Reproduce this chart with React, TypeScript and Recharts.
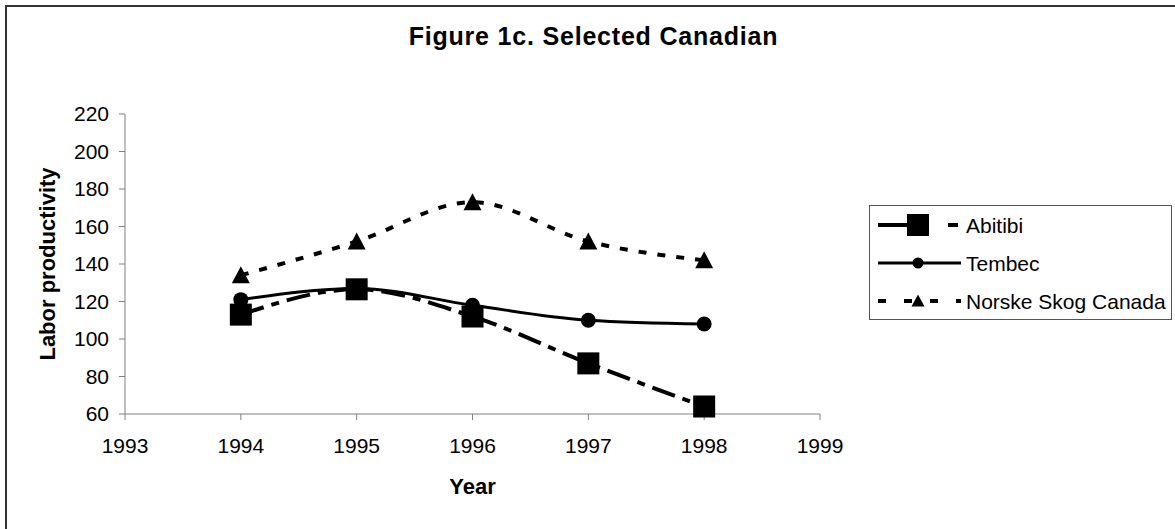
import { LineChart, Line, XAxis, YAxis, Legend } from "recharts";

const years = [1994, 1995, 1996, 1997, 1998];
const abitibi = [113, 126.5, 112, 87, 64];
const tembec = [121, 127, 118, 110, 108];
const norske = [134, 152, 173, 152, 142];

const xTicks = [1993, 1994, 1995, 1996, 1997, 1998, 1999];
const yTicks = [60, 80, 100, 120, 140, 160, 180, 200, 220];

const data = years.map((year, i) => ({
  year,
  abitibi: abitibi[i],
  tembec: tembec[i],
  norske: norske[i],
}));

const FONT = "'Liberation Sans', Arial, sans-serif";
const AXIS = "#808080";

const SERIES = [
  { key: "abitibi", name: "Abitibi", dash: "24 8 8 8", legendDash: "30 40 10 10", width: 4, marker: "square" },
  { key: "tembec", name: "Tembec", dash: undefined, legendDash: undefined, width: 3, marker: "circle" },
  { key: "norske", name: "Norske Skog Canada", dash: "8 11", legendDash: "8 18", width: 4, marker: "triangle" },
];

function Marker({ kind, cx, cy, small }: { kind: string; cx: number; cy: number; small?: boolean }) {
  if (kind === "square") return <rect x={cx - 11} y={cy - 11} width={22} height={22} fill="#000" />;
  if (kind === "circle") return <circle cx={cx} cy={cy} r={small ? 5.5 : 7.5} fill="#000" />;
  const h = small ? 6.5 : 9;
  return <polygon points={`${cx},${cy - h} ${cx + h},${cy + h - 1} ${cx - h},${cy + h - 1}`} fill="#000" />;
}

function makeDot(kind: string) {
  return (props: any) => {
    const { cx, cy, index } = props;
    if (cx == null || cy == null) return <g key={index} />;
    return <Marker key={index} kind={kind} cx={cx} cy={cy} />;
  };
}

function LegendBox() {
  return (
    <div
      style={{
        width: 303,
        height: 115,
        boxSizing: "border-box",
        border: "1px solid #555",
        background: "#fff",
      }}
    >
      <svg width={301} height={113}>
        {SERIES.map((s, i) => {
          const y = 19 + i * 38;
          return (
            <g key={s.key}>
              <line x1={8} x2={91} y1={y} y2={y} stroke="#000" strokeWidth={s.width} strokeDasharray={s.legendDash} />
              <Marker kind={s.marker} cx={48} cy={y} small />
              <text x={96} y={y} dy="0.36em" fontSize={21} fontFamily={FONT} fill="#000">
                {s.name}
              </text>
            </g>
          );
        })}
      </svg>
    </div>
  );
}

export default function App() {
  return (
    <div style={{ position: "absolute", left: 0, top: 0, width: 1175, height: 529, background: "#fff", overflow: "hidden" }}>
      <div
        style={{
          position: "absolute",
          left: 5,
          top: 5,
          width: 1200,
          height: 600,
          borderTop: "2px solid #333",
          borderLeft: "2px solid #333",
        }}
      />
      <div
        style={{
          position: "absolute",
          left: 6,
          top: 22,
          width: 1175,
          textAlign: "center",
          fontFamily: FONT,
          fontWeight: "bold",
          fontSize: 25,
          letterSpacing: 0.8,
          lineHeight: "28px",
          color: "#000",
        }}
      >
        Figure 1c. Selected Canadian
      </div>
      <div style={{ position: "absolute", left: 0, top: 0 }}>
        <LineChart width={1175} height={529} data={data} margin={{ top: 114, right: 355, left: 45, bottom: 30 }}>
          <XAxis
            dataKey="year"
            type="number"
            domain={[1993, 1999]}
            ticks={xTicks}
            height={85}
            stroke={AXIS}
            tickSize={6}
            tickMargin={18}
            tick={{ fill: "#000", fontSize: 21, fontFamily: FONT }}
            label={{
              value: "Year",
              position: "insideBottom",
              offset: 5,
              style: { fill: "#000", fontSize: 22, fontWeight: "bold", fontFamily: FONT },
            }}
          />
          <YAxis
            type="number"
            domain={[60, 220]}
            ticks={yTicks}
            width={80}
            stroke={AXIS}
            tickSize={6}
            tickMargin={10}
            tick={{ fill: "#000", fontSize: 21, fontFamily: FONT }}
            label={{
              value: "Labor productivity",
              angle: -90,
              position: "insideLeft",
              offset: 2,
              style: { textAnchor: "middle", fill: "#000", fontSize: 22, fontWeight: "bold", fontFamily: FONT },
            }}
          />
          <Legend
            layout="horizontal"
            verticalAlign="middle"
            align="center"
            wrapperStyle={{ left: 869, top: 205, width: 303, height: 115 }}
            content={() => <LegendBox />}
          />
          {SERIES.map((s) => (
            <Line
              key={s.key}
              type="monotone"
              dataKey={s.key}
              name={s.name}
              stroke="#000"
              strokeWidth={s.width}
              strokeDasharray={s.dash}
              dot={makeDot(s.marker)}
              activeDot={false}
              isAnimationActive={false}
            />
          ))}
        </LineChart>
      </div>
    </div>
  );
}
